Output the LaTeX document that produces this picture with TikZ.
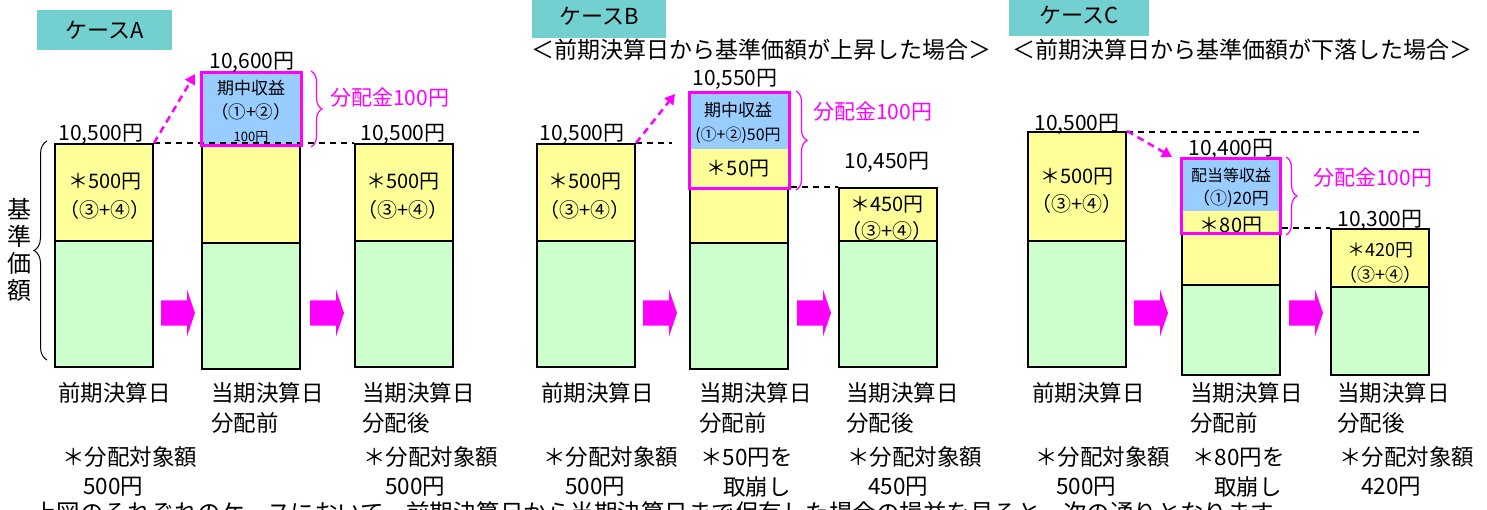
\documentclass[tikz,border=0pt]{standalone}
\usepackage{fontspec}
\setmainfont{Noto Sans CJK JP}
\usetikzlibrary{arrows.meta,decorations.pathreplacing}
\definecolor{barY}{RGB}{255,255,153}
\definecolor{barG}{RGB}{204,255,204}
\definecolor{barB}{RGB}{153,204,255}
\definecolor{mag}{RGB}{255,0,255}
\definecolor{tealbox}{RGB}{115,208,208}
\begin{document}
\begin{tikzpicture}[x=1pt,y=-1pt,
  seg/.style={draw=black,line width=2pt,anchor=north west,inner sep=0pt,minimum width=98pt},
  part/.style={anchor=north west,inner sep=0pt,minimum width=100pt},
  prof/.style={draw=mag,line width=3pt,anchor=north west,inner sep=0pt,minimum width=100pt},
  ttl/.style={fill=tealbox,inner sep=0pt,font=\fontsize{22}{24}\selectfont},
  sub/.style={inner sep=0pt,font=\fontsize{23}{25}\selectfont},
  val/.style={inner sep=0pt,font=\fontsize{21}{23}\selectfont},
  amt/.style={inner sep=0pt,font=\fontsize{20}{22}\selectfont},
  src/.style={inner sep=0pt,font=\fontsize{20}{22}\selectfont},
  day/.style={inner sep=0pt,anchor=west,font=\fontsize{22.5}{24}\selectfont},
  bigarr/.pic={\fill[mag] (-17,-12.5) -- (9,-12.5) -- (9,-23.5) -- (17,0) -- (9,23.5) -- (9,12.5) -- (-17,12.5) -- cycle;},
  pay/.style={draw=mag,line width=1.2pt,decorate,decoration={brace,amplitude=11pt}},
  payl/.style={text=mag,anchor=west,inner sep=0pt,font=\fontsize{21}{23}\selectfont},
  lvl/.style={line width=1.5pt,dash pattern=on 6pt off 5pt},
  mv/.style={draw=mag,line width=2.5pt,dash pattern=on 7pt off 5pt,-{Triangle[length=10pt,width=11pt]}}]
\useasboundingbox (0,0) rectangle (1487,510);

% titles
\node[ttl,minimum width=135pt,minimum height=40pt] (tA) at (104.5,30) {ケースA};
\node[ttl,minimum width=134pt,minimum height=43pt] (tB) at (599,16.5) {ケースB};
\node[ttl,minimum width=140pt,minimum height=41pt] (tC) at (1079,15.5) {ケースC};
\node[sub] (sB) at (761,50) {＜前期決算日から基準価額が上昇した場合＞};
\node[sub] (sC) at (1242,50) {＜前期決算日から基準価額が下落した場合＞};

% case A
\node[seg,fill=barY,minimum height=97pt] (a1y) at (54,143) {};
\node[seg,fill=barG,minimum height=126pt] (a1g) at (54,240) {};
\node[seg,fill=barY,minimum height=99pt] (a2y) at (201,143) {};
\node[seg,fill=barG,minimum height=126pt] (a2g) at (201,242) {};
\node[seg,fill=barY,minimum height=97pt] (a3y) at (354,143) {};
\node[seg,fill=barG,minimum height=126pt] (a3g) at (354,240) {};
\node[part,fill=barB,minimum height=73pt] (a2b) at (200,71) {};
\draw[lvl] (a1y.north east) -- (a3y.north west);
\node[prof,minimum height=73pt] (a2p) at (200,71) {};

\node[val] (a1v) at (101,134) {10,500円};
\node[amt] (a1t) at (105,182) {＊500円};
\node[src] (a1s) at (105,210) {（③+④）};
\node[val] (a2v) at (252,62) {10,600円};
\node[inner sep=0pt,font=\fontsize{17}{19}\selectfont] (a2t) at (251,88) {期中収益};
\node[inner sep=0pt,font=\fontsize{17.5}{19}\selectfont] (a2s) at (251,112) {（①+②）};
\node[inner sep=0pt,font=\fontsize{13}{15}\selectfont] (a2m) at (251,137) {100円};
\node[val] (a3v) at (403,134) {10,500円};
\node[amt] (a3t) at (403,182) {＊500円};
\node[src] (a3s) at (403,210) {（③+④）};

\coordinate (pa) at (195,74);
\draw[mv] (a1y.north east) -- (pa);
\draw[pay] ([xshift=8pt]a2p.north east) -- ([xshift=8pt]a2p.south east);
\node[payl] (a2d) at (330,98) {分配金100円};
\draw[decorate,decoration={brace,amplitude=13pt},line width=1pt]
  ([xshift=-7pt,yshift=8pt]a1g.south west) -- ([xshift=-7pt,yshift=2pt]a1y.north west);
\node[align=center,inner sep=0pt,font=\fontsize{24}{27}\selectfont] (kj) at (19,250) {基\\準\\価\\額};

\pic at (178,313) {bigarr};
\pic at (327,313) {bigarr};

\node[day] (d1) at (58,393) {前期決算日};
\node[day] (d2) at (211,393) {当期決算日};
\node[day] (d2b) at (211,423) {分配前};
\node[day] (d3) at (362,393) {当期決算日};
\node[day] (d3b) at (362,423) {分配後};
\node[day] (n1) at (62,457) {＊分配対象額};
\node[day] (n1b) at (83,487) {500円};
\node[day] (n3) at (363,457) {＊分配対象額};
\node[day] (n3b) at (385,487) {500円};

% case B
\node[seg,fill=barY,minimum height=97pt] (b1y) at (536,143) {};
\node[seg,fill=barG,minimum height=126pt] (b1g) at (536,240) {};
\node[seg,fill=barY,minimum height=54pt] (b2y) at (689,188) {};
\node[seg,fill=barG,minimum height=126pt] (b2g) at (689,242) {};
\node[part,fill=barB,minimum height=58pt] (b2b) at (688,91) {};
\node[part,fill=barY,minimum height=39pt] (b2s) at (688,149) {};
\node[seg,fill=barY,minimum height=53pt] (b3y) at (838,187) {};
\node[seg,fill=barG,minimum height=126pt] (b3g) at (838,240) {};
\coordinate (bl) at (672,143);
\draw[lvl] (b1y.north east) -- (bl);
\node[prof,minimum height=96pt] (b2p) at (688,91) {};
\draw[lvl] (b3y.north west -| b2p.east) -- (b3y.north west);

\node[val] (b1v) at (582,134) {10,500円};
\node[amt] (b1t) at (585,182) {＊500円};
\node[src] (b1s) at (585,210) {（③+④）};
\node[val] (b2v) at (735,79) {10,550円};
\node[inner sep=0pt,font=\fontsize{17}{19}\selectfont] (b2t) at (738,110) {期中収益};
\node[inner sep=0pt,font=\fontsize{16}{18}\selectfont] (b2m) at (738,135) {(①+②)50円};
\node[amt] (b2n) at (738,169) {＊50円};
\node[val] (b3v) at (887,162) {10,450円};
\node[amt] (b3t) at (887,205) {＊450円};
\node[src] (b3s) at (887,231) {（③+④）};

\coordinate (pb) at (675,94);
\draw[mv] (b1y.north east) -- (pb);
\draw[pay] ([xshift=5pt]b2p.north east) -- ([xshift=5pt]b2p.south east);
\node[payl] (b2d) at (813,112) {分配金100円};

\pic at (660,313) {bigarr};
\pic at (814,313) {bigarr};

\node[day] (e1) at (541,393) {前期決算日};
\node[day] (e2) at (699,393) {当期決算日};
\node[day] (e2b) at (699,423) {分配前};
\node[day] (e3) at (846,393) {当期決算日};
\node[day] (e3b) at (846,423) {分配後};
\node[day] (m1) at (543,457) {＊分配対象額};
\node[day] (m1b) at (565,487) {500円};
\node[day] (m2) at (700,457) {＊50円を};
\node[day] (m2b) at (723,487) {取崩し};
\node[day] (m3) at (847,457) {＊分配対象額};
\node[day] (m3b) at (868,487) {450円};

% case C
\node[seg,fill=barY,minimum height=109pt] (c1y) at (1027,131) {};
\node[seg,fill=barG,minimum height=126pt] (c1g) at (1027,240) {};
\node[seg,fill=barY,minimum height=52pt] (c2y) at (1181,232) {};
\node[seg,fill=barG,minimum height=90pt] (c2g) at (1181,284) {};
\node[part,minimum width=99pt,fill=barB,minimum height=54pt] (c2b) at (1180,157) {};
\node[part,minimum width=99pt,fill=barY,minimum height=21pt] (c2s) at (1180,211) {};
\node[seg,fill=barY,minimum height=58pt] (c3y) at (1330,228) {};
\node[seg,fill=barG,minimum height=88pt] (c3g) at (1330,286) {};
\coordinate (cl) at (1421,132);
\draw[lvl] ([yshift=-1pt]c1y.north east) -- (cl);

\node[val] (c1v) at (1077,124) {10,500円};
\node[amt] (c1t) at (1077,177) {＊500円};
\node[src] (c1s) at (1077,204) {（③+④）};
\node[val] (c2v) at (1231,149) {10,400円};
\node[inner sep=0pt,font=\fontsize{16}{18}\selectfont] (c2t) at (1231,175) {配当等収益};
\node[inner sep=0pt,font=\fontsize{17}{19}\selectfont] (c2m) at (1231,199) {（①)20円};
\node[amt] (c2n) at (1231,226) {＊80円};
\node[prof,minimum width=99pt,minimum height=75pt] (c2p) at (1180,157) {};
\draw[lvl] (c3y.north west -| c2p.east) -- (c3y.north west);
\node[val] (c3v) at (1380,220) {10,300円};
\node[inner sep=0pt,font=\fontsize{18}{20}\selectfont] (c3t) at (1380,250) {＊420円};
\node[inner sep=0pt,font=\fontsize{18}{20}\selectfont] (c3s) at (1380,275) {（③+④）};

\coordinate (pc) at (1172,157);
\draw[mv] (c1y.north east) -- (pc);
\draw[pay] ([xshift=4pt]c2p.north east) -- ([xshift=4pt]c2p.south east);
\node[payl] (c2d) at (1313,178) {分配金100円};

\pic at (1151,313) {bigarr};
\pic at (1306,313) {bigarr};

\node[day] (f1) at (1032,393) {前期決算日};
\node[day] (f2) at (1190,393) {当期決算日};
\node[day] (f2b) at (1190,423) {分配前};
\node[day] (f3) at (1337,393) {当期決算日};
\node[day] (f3b) at (1337,423) {分配後};
\node[day] (k1) at (1035,457) {＊分配対象額};
\node[day] (k1b) at (1056,487) {500円};
\node[day] (k2) at (1192,457) {＊80円を};
\node[day] (k2b) at (1214,487) {取崩し};
\node[day] (k3) at (1339,457) {＊分配対象額};
\node[day] (k3b) at (1361,487) {420円};

\node[inner sep=0pt,anchor=base west,font=\fontsize{23.5}{25}\selectfont] (note) at (33,521)
  {上図のそれぞれのケースにおいて、前期決算日から当期決算日まで保有した場合の損益を見ると、次の通りとなります。};
\end{tikzpicture}
\end{document}
